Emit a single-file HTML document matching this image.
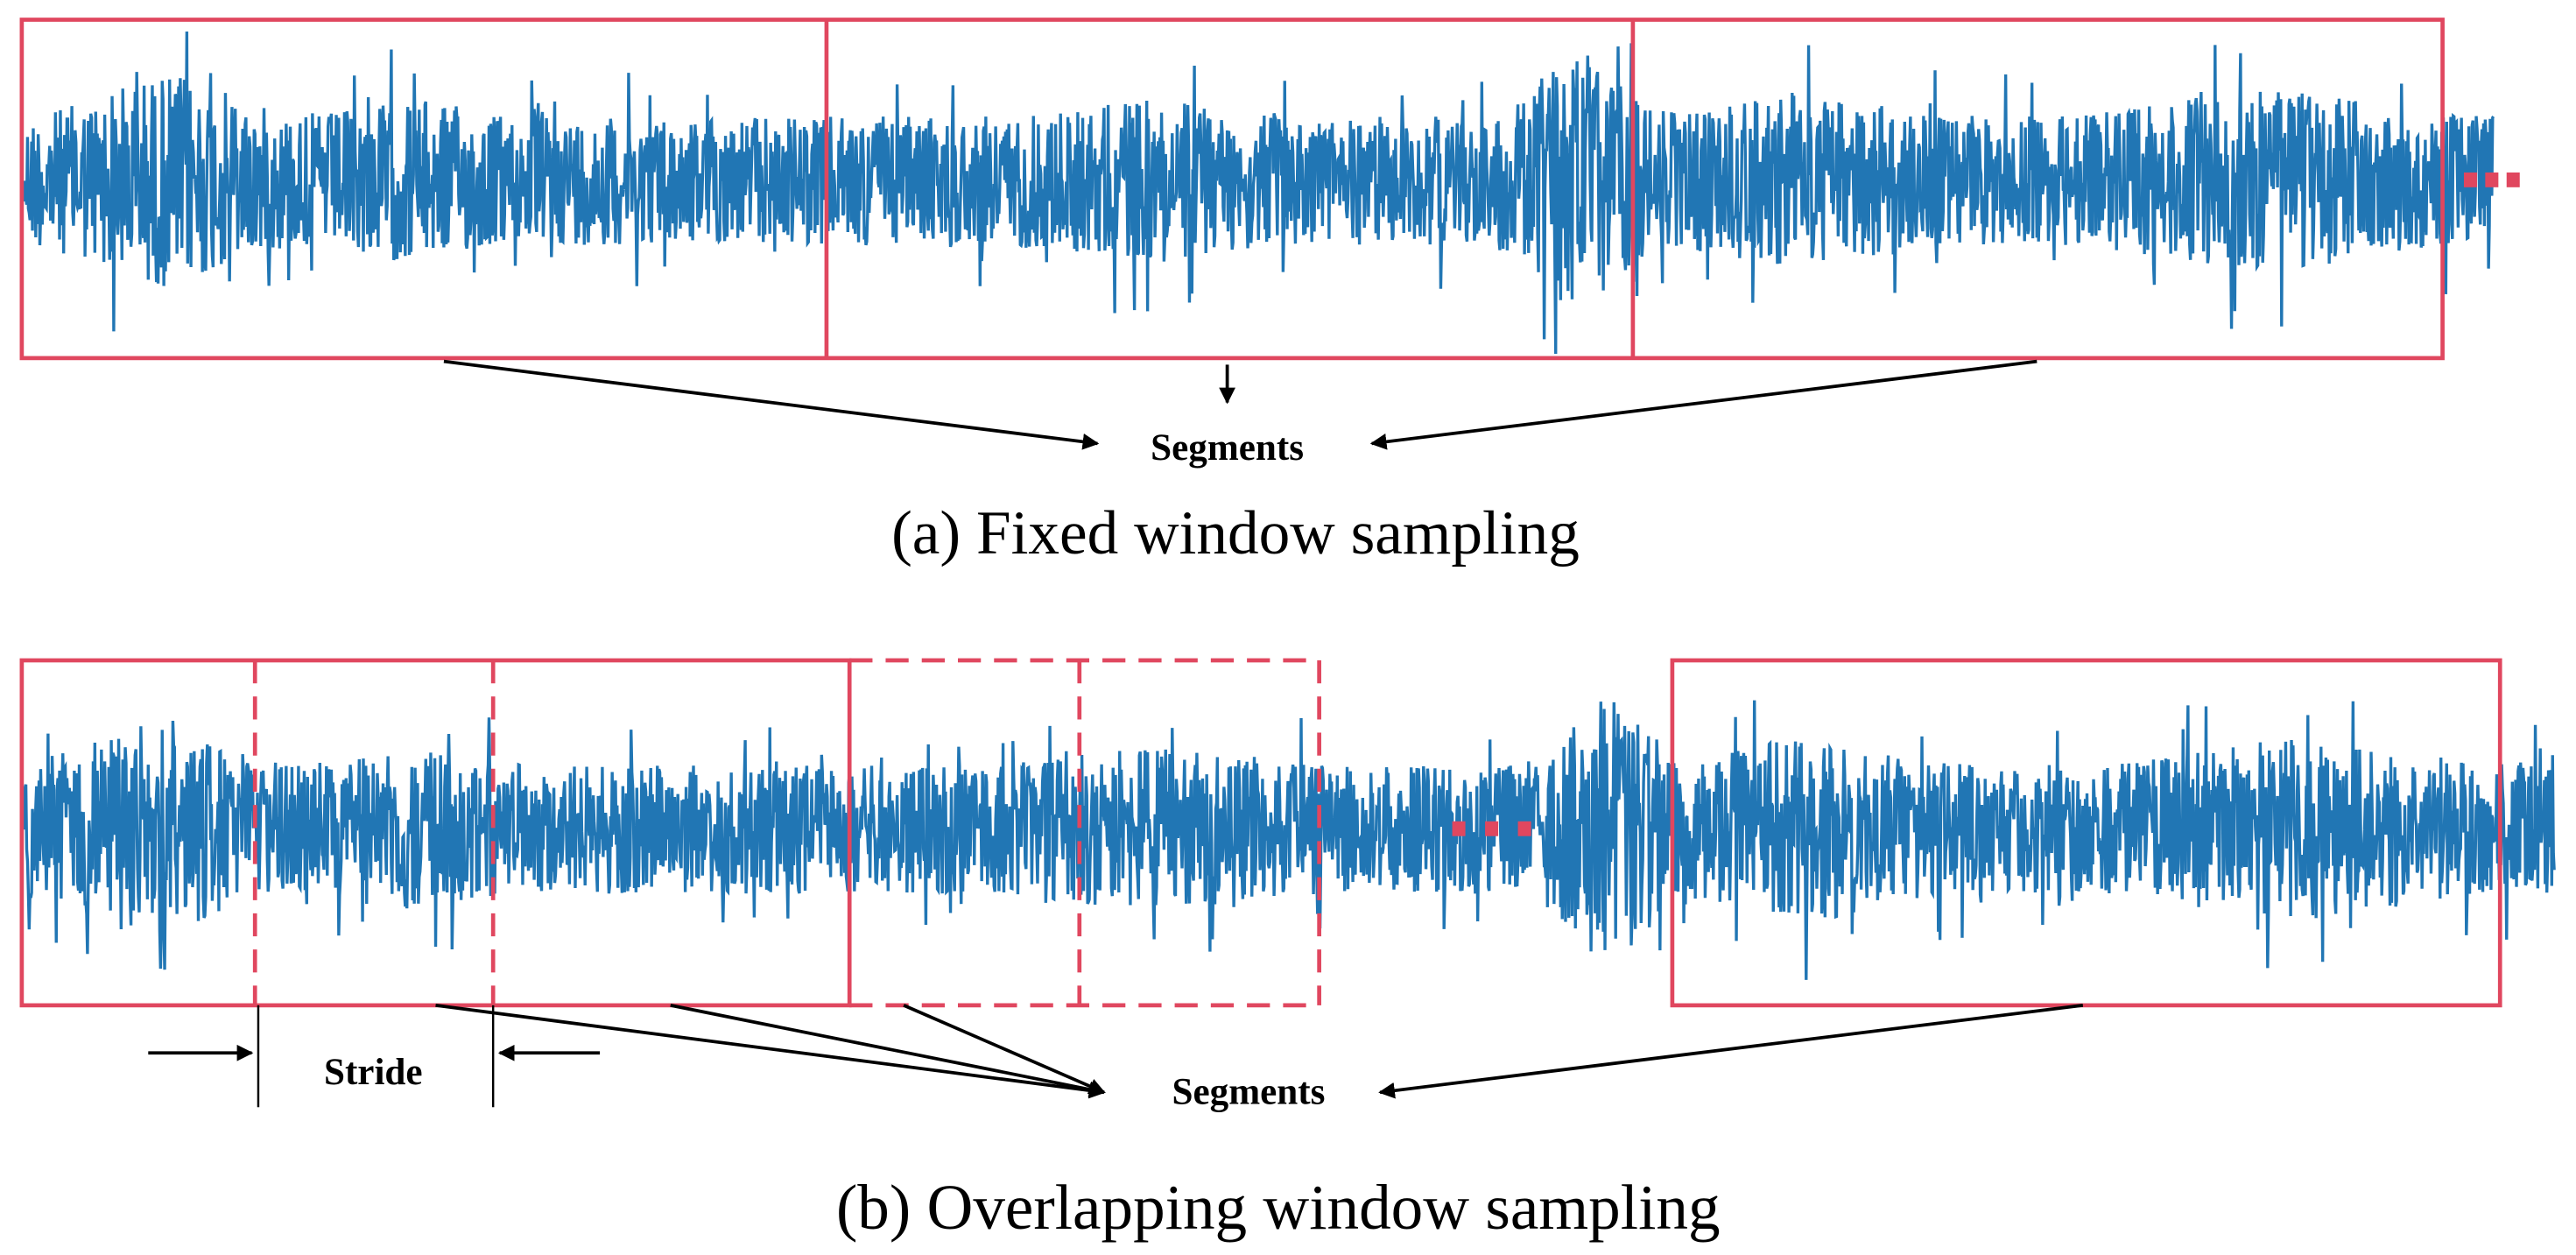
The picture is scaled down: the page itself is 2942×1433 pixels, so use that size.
<!DOCTYPE html>
<html><head><meta charset="utf-8"><style>
html,body{margin:0;padding:0;background:#fff;}
svg{display:block}
</style></head><body>
<svg id="s" width="2942" height="1433" viewBox="0 0 1568 764" xmlns="http://www.w3.org/2000/svg">
<defs>
<marker id="ah" viewBox="0 0 10 10" refX="9" refY="5" markerWidth="5" markerHeight="5" orient="auto"><path d="M0,0 L10,5 L0,10 z" fill="#000"/></marker>
</defs>
<g id="sig"></g>
<g fill="none" stroke="#e0475f" stroke-width="2.5">
<rect x="13" y="12" width="1474" height="206"/>
<line x1="503" y1="12" x2="503" y2="218"/>
<line x1="994" y1="12" x2="994" y2="218"/>
</g>
<g fill="#e0475f"><rect x="1500" y="105" width="8" height="9"/><rect x="1513" y="105" width="8" height="9"/><rect x="1526" y="105" width="8" height="9"/></g>
<g stroke="#000" stroke-width="2" fill="none" marker-end="url(#ah)">
<line x1="270" y1="220" x2="668" y2="270"/>
<line x1="747" y1="222" x2="747" y2="245"/>
<line x1="1240" y1="220" x2="835" y2="270"/>
</g>
<text x="747" y="280" font-family="Liberation Serif" font-weight="bold" font-size="23" text-anchor="middle">Segments</text>
<text x="752" y="337" font-family="Liberation Serif" font-size="38" text-anchor="middle">(a) Fixed window sampling</text>
<g fill="none" stroke="#e0475f" stroke-width="2.5">
<rect x="13" y="402" width="504" height="210"/>
<rect x="1018" y="402" width="504" height="210"/>
</g>
<g fill="none" stroke="#e0475f" stroke-width="2.5" stroke-dasharray="14,8">
<line x1="155" y1="402" x2="155" y2="612"/>
<line x1="300" y1="402" x2="300" y2="612"/>
<line x1="517" y1="402" x2="803" y2="402"/>
<line x1="517" y1="612" x2="803" y2="612"/>
<line x1="803" y1="402" x2="803" y2="612"/>
<line x1="657" y1="402" x2="657" y2="612"/>
</g>
<g fill="#e0475f"><rect x="884" y="500" width="8" height="9"/><rect x="904" y="500" width="8" height="9"/><rect x="924" y="500" width="8" height="9"/></g>
<g stroke="#000" stroke-width="1.3"><line x1="157" y1="612" x2="157" y2="674"/><line x1="300" y1="612" x2="300" y2="674"/></g>
<g stroke="#000" stroke-width="2" fill="none" marker-end="url(#ah)">
<line x1="265" y1="612" x2="672" y2="665"/>
<line x1="408" y1="612" x2="672" y2="665"/>
<line x1="550" y1="612" x2="672" y2="665"/>
<line x1="1268" y1="612" x2="840" y2="665"/>
<line x1="90" y1="641" x2="153" y2="641"/>
<line x1="365" y1="641" x2="304" y2="641"/>
</g>
<text x="227" y="660" font-family="Liberation Serif" font-weight="bold" font-size="23" text-anchor="middle">Stride</text>
<text x="760" y="672" font-family="Liberation Serif" font-weight="bold" font-size="23" text-anchor="middle">Segments</text>
<text x="778" y="748" font-family="Liberation Serif" font-size="39" text-anchor="middle">(b) Overlapping window sampling</text>
</svg>
<script>
(function(){
var seed=12345;function r(){seed=(seed*1103515245+12345)%2147483648;return seed/2147483648;}
function env(x,peaks){var e=0.75;for(var i=0;i<peaks.length;i++){var p=peaks[i];var d=(x-p[0])/p[1];e+=p[2]*Math.exp(-d*d);}return e;}
function make(x0,x1,cy,amp,peaks){var d="M"+x0+","+cy;for(var x=x0;x<=x1;x+=0.5){var e=env(x,peaks);var v=(r()*2-1);if(r()<0.06)v*=1.7;var y=cy+v*amp*e;d+=" L"+x.toFixed(1)+","+y.toFixed(1);}return d;}
var g=document.getElementById("sig");var ns="http://www.w3.org/2000/svg";
function add(d){var p=document.createElementNS(ns,"path");p.setAttribute("d",d);p.setAttribute("fill","none");p.setAttribute("stroke","#2176b4");p.setAttribute("stroke-width","1.8");g.appendChild(p);}
add(make(15,1518,110,52,[[100,50,0.5],[250,40,0.2],[700,60,0.2],[960,30,0.8],[1100,60,0.25],[1380,80,0.3]]));
add(make(15,1555,505,52,[[90,50,0.5],[250,40,0.2],[700,60,0.2],[980,30,0.8],[1100,60,0.3],[1400,80,0.3]]));
})();
</script>
</body></html>
